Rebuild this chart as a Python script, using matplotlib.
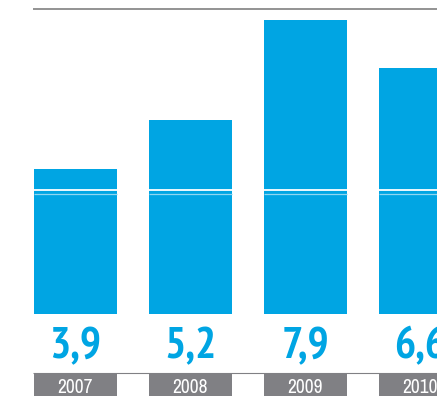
import matplotlib
matplotlib.use('Agg')
import matplotlib.pyplot as plt
from matplotlib import font_manager as fm

years = ['2007', '2008', '2009', '2010']
values = [3.9, 5.2, 7.9, 6.6]
value_labels = ['3,9', '5,2', '7,9', '6,6']

blue = '#00a5e3'
grey = '#808084'


def narrow_font(bold):
    # chercher une police étroite installée
    found = []
    for f in fm.fontManager.ttflist:
        narrow = ('Narrow' in f.name or 'Condensed' in f.name
                  or f.stretch in ('condensed', 'semi-condensed', 'extra-condensed'))
        if not narrow:
            continue
        wt = f.weight if isinstance(f.weight, int) else (700 if 'bold' in str(f.weight) else 400)
        if (wt >= 600) != bold or f.style != 'normal':
            continue
        rank = 0 if 'Narrow' in f.name else 1 if 'Roboto' in f.name else 2
        found.append((rank, f.fname))
    if found:
        return fm.FontProperties(fname=sorted(found)[0][1])
    return fm.FontProperties(family='DejaVu Sans', weight='bold' if bold else 'normal')


fp_val = narrow_font(True)
fp_year = narrow_font(False)

fig = plt.figure(figsize=(4.37, 3.96), dpi=100)
ax = fig.add_axes([0, 0, 1, 1])
ax.set_xlim(-0.6565, 3.1435)
ax.set_ylim(-2.203, 8.436)
ax.axis('off')

x = list(range(len(values)))
w = 0.7217

# barres
ax.bar(x, values, width=w, color=blue, zorder=2)

# fines lignes blanches sur les barres
for i in x:
    ax.hlines(3.33, i - w / 2, i + w / 2, color='white', lw=1.3, zorder=3)
    ax.hlines(3.22, i - w / 2, i + w / 2, color='#8fd6f2', lw=0.9, zorder=3)

# ligne grise en haut
ax.hlines(8.195, -0.37, 3.1435, color='#8a8a8a', lw=1.3)

# bandeau des années
ax.hlines(-1.572, -0.37, 3.1435, color=grey, lw=0.8)
ax.bar(x, [-0.7] * len(x), bottom=-1.572, width=w, color=grey, zorder=2)

fp_val.set_size(32)
fp_year.set_size(14)
for i, v in enumerate(values):
    ax.text(i, -1.18, value_labels[i], ha='center', va='baseline',
            color=blue, fontproperties=fp_val)
    ax.text(i, -2.12, years[i], ha='center', va='baseline',
            color='white', fontproperties=fp_year)

fig.savefig('out.png', dpi=100)
